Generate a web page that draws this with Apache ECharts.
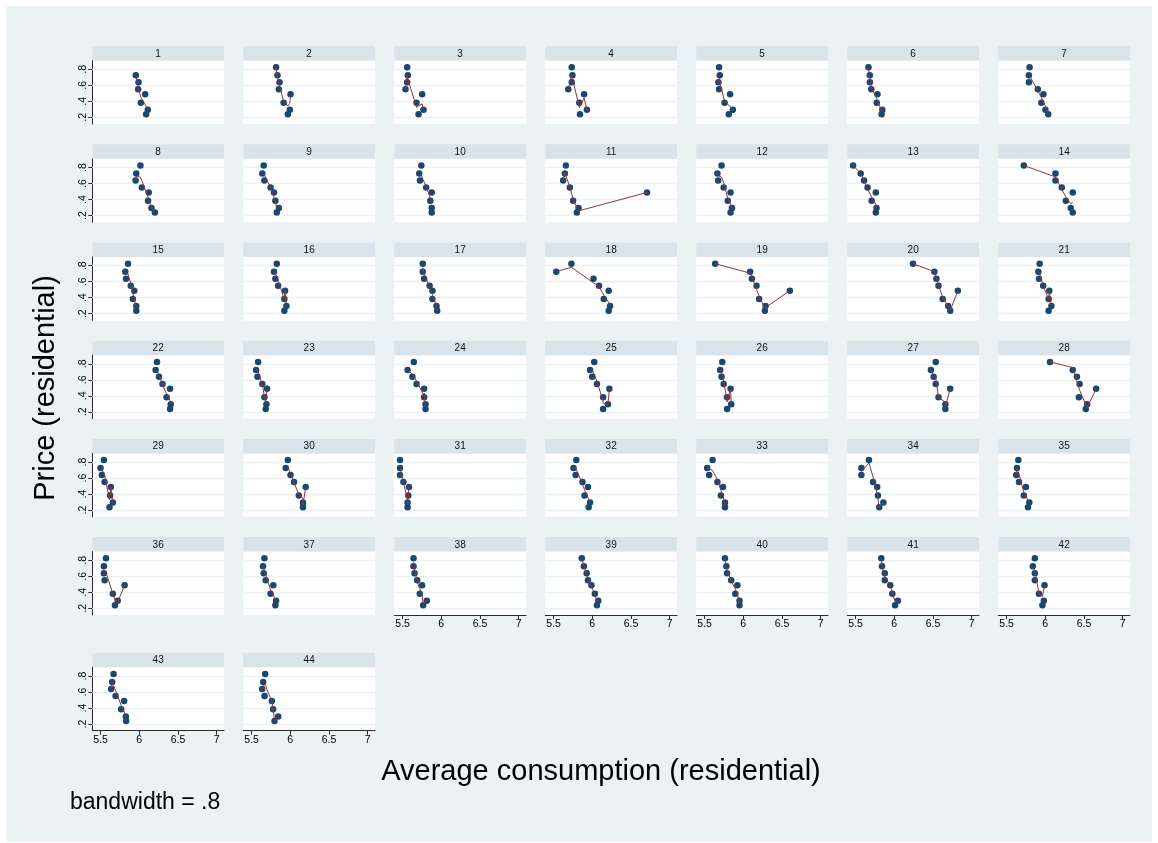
<!DOCTYPE html>
<html>
<head>
<meta charset="utf-8">
<script src="https://cdn.jsdelivr.net/npm/echarts@6/dist/echarts.min.js"></script>
<style>
  html, body { margin: 0; padding: 0; background: #ffffff; }
  #chart { width: 1158px; height: 843px; }
</style>
</head>
<body>
<div id="chart"></div>
<script>
// Price levels (residential), shared by every panel, top to bottom
const prices = [0.825, 0.725, 0.638, 0.55, 0.488, 0.383, 0.295, 0.237];

// Panel captions
const panelLabels = ['1','2','3','4','5','6','7','8','9','10','11','12','13','14',
  '15','16','17','18','19','20','21','22','23','24','25','26','27','28',
  '29','30','31','32','33','34','35','36','37','38','39','40','41','42','43','44'];

// Average consumption (residential) for each panel, aligned with `prices`
const consumption = [
  [null, 5.955, 5.990, 5.985, 6.076, 6.020, 6.110, 6.088],
  [5.816, 5.834, 5.861, 5.852, 6.003, 5.914, 5.994, 5.968],
  [5.558, 5.567, 5.558, 5.537, 5.752, 5.680, 5.770, 5.706],
  [5.734, 5.743, 5.734, 5.689, 5.894, 5.832, 5.930, 5.841],
  [5.687, 5.696, 5.678, 5.687, 5.829, 5.758, 5.865, 5.812],
  [5.666, 5.684, 5.684, 5.702, 5.782, 5.773, 5.845, 5.836],
  [5.797, 5.788, 5.788, 5.904, 5.976, 5.949, 6.002, 6.038],
  [6.015, 5.961, 5.952, 6.033, 6.122, 6.113, 6.157, 6.202],
  [5.656, 5.638, 5.665, 5.745, 5.789, 5.807, 5.852, 5.825],
  [5.742, 5.715, 5.724, 5.804, 5.876, 5.858, 5.876, 5.876],
  [5.658, 5.645, 5.623, 5.710, 6.708, 5.752, 5.822, 5.800],
  [5.719, 5.665, 5.675, 5.746, 5.835, 5.799, 5.853, 5.835],
  [5.467, 5.565, 5.609, 5.654, 5.761, 5.707, 5.770, 5.761],
  [5.722, 6.132, 6.132, 6.213, 6.355, 6.266, 6.329, 6.355],
  [5.854, 5.819, 5.828, 5.890, 5.935, 5.917, 5.961, 5.961],
  [5.825, 5.789, 5.807, 5.843, 5.932, 5.923, 5.950, 5.923],
  [5.760, 5.760, 5.778, 5.849, 5.885, 5.885, 5.938, 5.947],
  [5.730, 5.534, 6.016, 6.087, 6.212, 6.149, 6.230, 6.212],
  [5.636, 6.089, 6.111, 6.171, 6.602, 6.205, 6.288, 6.279],
  [6.242, 6.519, 6.545, 6.572, 6.822, 6.626, 6.697, 6.724],
  [5.927, 5.910, 5.919, 5.972, 6.052, 6.043, 6.079, 6.043],
  [6.229, 6.211, 6.255, 6.300, 6.398, 6.353, 6.407, 6.398],
  [5.584, 5.558, 5.575, 5.638, 5.700, 5.665, 5.691, 5.682],
  [5.644, 5.564, 5.626, 5.680, 5.778, 5.778, 5.796, 5.796],
  [6.025, 5.971, 5.998, 6.060, 6.221, 6.140, 6.203, 6.140],
  [5.728, 5.701, 5.719, 5.746, 5.835, 5.790, 5.844, 5.790],
  [6.536, 6.474, 6.509, 6.536, 6.723, 6.572, 6.661, 6.661],
  [6.061, 6.355, 6.409, 6.444, 6.658, 6.435, 6.542, 6.524],
  [5.542, 5.498, 5.516, 5.551, 5.632, 5.623, 5.658, 5.614],
  [5.968, 5.941, 6.003, 6.048, 6.199, 6.110, 6.164, 6.164],
  [5.466, 5.466, 5.466, 5.510, 5.582, 5.573, 5.564, 5.564],
  [5.793, 5.757, 5.784, 5.873, 5.944, 5.900, 5.971, 5.953],
  [5.603, 5.532, 5.558, 5.665, 5.737, 5.710, 5.763, 5.763],
  [5.672, 5.574, 5.574, 5.725, 5.779, 5.788, 5.859, 5.805],
  [5.651, 5.633, 5.624, 5.660, 5.749, 5.722, 5.793, 5.776],
  [5.569, 5.542, 5.542, 5.551, 5.810, 5.658, 5.721, 5.685],
  [5.665, 5.647, 5.656, 5.682, 5.780, 5.745, 5.816, 5.807],
  [5.641, 5.641, 5.654, 5.688, 5.752, 5.722, 5.813, 5.765],
  [5.864, 5.891, 5.927, 5.944, 5.989, 6.033, 6.078, 6.060],
  [5.763, 5.781, 5.790, 5.844, 5.924, 5.897, 5.951, 5.951],
  [5.832, 5.841, 5.877, 5.877, 5.948, 5.975, 6.046, 6.010],
  [5.865, 5.838, 5.865, 5.865, 5.990, 5.918, 5.981, 5.963],
  [5.667, 5.649, 5.636, 5.693, 5.804, 5.765, 5.826, 5.830],
  [5.675, 5.649, 5.636, 5.667, 5.761, 5.778, 5.843, 5.796]
];

const xTicks = [5.5, 6, 6.5, 7];
const xTickLabels = ['5.5', '6', '6.5', '7'];
const yTicks = [0.2, 0.4, 0.6, 0.8];
const yTickLabels = ['.2', '.4', '.6', '.8'];

const BANDWIDTH = 0.8;

// Running-line smoother with tricube weights (lowess, no robustness passes)
function lowess(xs, ys, bw) {
  const pts = xs.map((x, j) => ({ x, y: ys[j], j }))
    .filter(p => p.x !== null)
    .sort((a, b) => (a.x - b.x) || (a.j - b.j));
  const n = pts.length;
  const k = Math.floor((n * bw - 0.5) / 2);
  return pts.map((p, i) => {
    const lo = Math.max(0, i - k), hi = Math.min(n - 1, i + k);
    const d = 1.0001 * Math.max(pts[hi].x - p.x, p.x - pts[lo].x);
    const w = [];
    let sw = 0, sx = 0, sy = 0;
    for (let j = lo; j <= hi; j++) {
      const u = d > 0 ? Math.abs(pts[j].x - p.x) / d : 0;
      const wt = Math.pow(1 - u * u * u, 3);
      w.push(wt); sw += wt; sx += wt * pts[j].x; sy += wt * pts[j].y;
    }
    const mx = sx / sw, my = sy / sw;
    let sxx = 0, sxy = 0;
    for (let j = lo; j <= hi; j++) {
      const wt = w[j - lo];
      sxx += wt * (pts[j].x - mx) * (pts[j].x - mx);
      sxy += wt * (pts[j].x - mx) * (pts[j].y - my);
    }
    const b = sxx > 1e-12 ? sxy / sxx : 0;
    return [p.x, my + b * (p.x - mx)];
  });
}

// Layout of the 7-column panel array
const FONT = '"Liberation Sans", Arial, Helvetica, sans-serif';
const NCOL = 7;
const PLOT_W = 131.7;
const colLeft = c => 92.3 + 151 * c;
const rowTick8 = [69.3, 167.5, 265.7, 363.9, 462.1, 560.3, 676];
const Y_MIN = 0.116, Y_MAX = 0.909, PX_PER_Y = 80;
const X_MIN = 5.392, X_MAX = 7.096;
const STRIP_H = 14.5;

const BG = '#eaf2f3';
const STRIP = '#d9e4ea';
const GRIDLINE = '#eaf2f3';
const MARKER = '#1a476f';
const SMOOTH = '#90353b';
const AXIS = '#2b2b2b';

const grids = [], xAxes = [], yAxes = [], series = [], graphics = [];

consumption.forEach((xs, i) => {
  const r = Math.floor(i / NCOL), c = i % NCOL;
  const left = colLeft(c);
  const top = rowTick8[r] - (Y_MAX - 0.8) * PX_PER_Y;
  const height = (Y_MAX - Y_MIN) * PX_PER_Y;
  const hasY = c === 0;
  const hasX = i + NCOL >= consumption.length;

  grids.push({ left, top, width: PLOT_W, height, show: true,
    backgroundColor: '#ffffff', borderWidth: 0 });

  xAxes.push({
    gridIndex: i, type: 'value', min: X_MIN, max: X_MAX,
    axisLine: { show: hasX, onZero: false, lineStyle: { color: AXIS, width: 1 } },
    axisTick: { show: hasX, length: 4, customValues: xTicks, lineStyle: { color: AXIS } },
    axisLabel: { show: hasX, customValues: xTicks, margin: 4,
      formatter: v => xTickLabels[xTicks.indexOf(v)],
      fontFamily: FONT, fontSize: 10.5, color: '#000' },
    splitLine: { show: false }
  });

  yAxes.push({
    gridIndex: i, type: 'value', min: Y_MIN, max: Y_MAX,
    axisLine: { show: hasY, onZero: false, lineStyle: { color: AXIS, width: 1 } },
    axisTick: { show: hasY, length: 4, customValues: yTicks, lineStyle: { color: AXIS } },
    axisLabel: { show: hasY, customValues: yTicks, rotate: 90, margin: 4,
      formatter: v => yTickLabels[yTicks.indexOf(v)],
      fontFamily: FONT, fontSize: 10.5, color: '#000' },
    splitLine: { show: false }
  });

  const pts = xs.map((x, j) => [x, prices[j]]).filter(p => p[0] !== null);

  // horizontal grid lines at the y ticks
  series.push({
    type: 'scatter', xAxisIndex: i, yAxisIndex: i, data: pts, symbolSize: 0,
    silent: true, z: 1, animation: false,
    markLine: {
      silent: true, symbol: ['none', 'none'], label: { show: false }, z: 1,
      animation: false,
      lineStyle: { color: GRIDLINE, width: 1.3, type: 'solid' },
      data: yTicks.map(v => ({ yAxis: v }))
    }
  });

  series.push({
    type: 'scatter', xAxisIndex: i, yAxisIndex: i, data: pts,
    symbol: 'circle', symbolSize: 6.5, z: 2, animation: false,
    itemStyle: { color: MARKER, opacity: 1 }
  });

  series.push({
    type: 'line', xAxisIndex: i, yAxisIndex: i,
    data: lowess(xs, prices, BANDWIDTH),
    showSymbol: false, symbol: 'none', z: 3, animation: false,
    lineStyle: { color: SMOOTH, width: 1 }
  });

  // caption strip above the panel
  graphics.push({
    type: 'rect', silent: true,
    shape: { x: left, y: top - STRIP_H, width: PLOT_W, height: STRIP_H },
    style: { fill: STRIP }
  });
  graphics.push({
    type: 'text', silent: true,
    x: left + PLOT_W / 2, y: top - STRIP_H / 2 + 0.5,
    style: { text: panelLabels[i], font: '10px ' + FONT, fill: '#111',
      textAlign: 'center', textVerticalAlign: 'middle', align: 'center', verticalAlign: 'middle' }
  });
});

// white margin around the graph region (top, left, right, bottom)
[[0, 0, 1158, 6], [0, 0, 6, 843], [1152, 0, 6, 843], [0, 842, 1158, 1]].forEach(b => {
  graphics.push({
    type: 'rect', silent: true,
    shape: { x: b[0], y: b[1], width: b[2], height: b[3] },
    style: { fill: '#ffffff' }
  });
});

graphics.push({
  type: 'text', silent: true, x: 46, y: 388, rotation: Math.PI / 2,
  style: { text: 'Price (residential)', font: '29px ' + FONT, fill: '#000',
    textAlign: 'center', textVerticalAlign: 'middle', align: 'center', verticalAlign: 'middle' }
});
graphics.push({
  type: 'text', silent: true, x: 601, y: 772,
  style: { text: 'Average consumption (residential)', font: '29px ' + FONT, fill: '#000',
    textAlign: 'center', textVerticalAlign: 'middle', align: 'center', verticalAlign: 'middle' }
});
graphics.push({
  type: 'text', silent: true, x: 70, y: 803,
  style: { text: 'bandwidth = .8', font: '23px ' + FONT, fill: '#000',
    textAlign: 'left', textVerticalAlign: 'middle', align: 'left', verticalAlign: 'middle' }
});

const chart = echarts.init(document.getElementById('chart'), null, { renderer: 'canvas' });
chart.setOption({
  backgroundColor: BG,
  animation: false,
  grid: grids,
  xAxis: xAxes,
  yAxis: yAxes,
  series: series,
  graphic: { elements: graphics }
});
</script>
</body>
</html>
